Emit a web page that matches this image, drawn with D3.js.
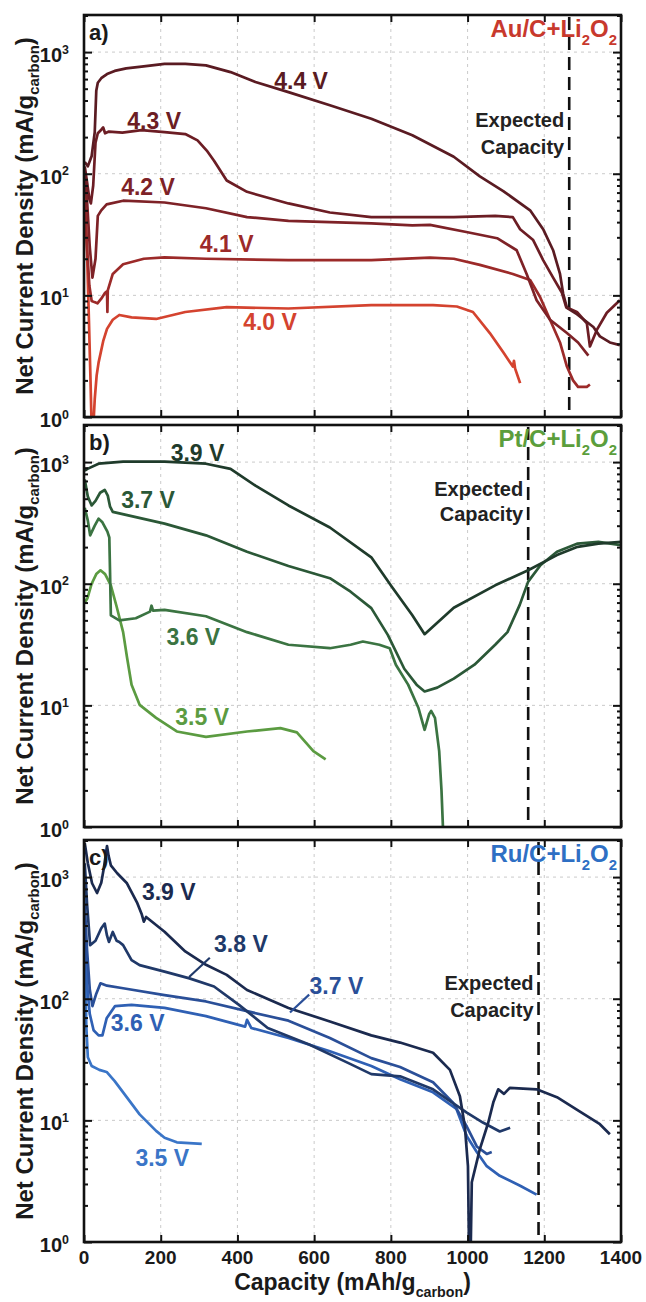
<!DOCTYPE html>
<html>
<head>
<meta charset="utf-8">
<script src="https://cdn.jsdelivr.net/npm/d3@7"></script>
<style>
  body { margin: 0; background: #fff; }
</style>
</head>
<body>
<script>
// [capacity mAh/g, net current density mA/g]

// a) Au/C + Li2O2
const au44 = [[2,125],[10,115],[20,140],[28,220],[32,480],[36,560],[45,610],[60,660],[80,700],[110,735],[150,760],[210,800],[264,800],[318,777],[382,685],[447,567],[533,469],[641,365],[749,283],[856,207],[964,138],[1032,95],[1093,72],[1163,50],[1197,35],[1223,23.5],[1241,15],[1249,10.4],[1259,7.9],[1285,7.0],[1328,5.5],[1345,4.6],[1371,4.1],[1397,3.9]];
const au43 = [[2,115],[8,85],[14,62],[18,57],[24,80],[30,180],[36,215],[45,230],[50,240],[55,215],[65,222],[100,218],[150,228],[210,220],[264,212],[296,188],[320,155],[339,128],[372,88],[425,71],[533,57],[641,48],[749,44],[856,44],[964,44],[1072,45],[1118,44],[1137,35],[1171,28.5],[1197,19.5],[1223,14],[1246,10.5],[1257,8],[1285,7.3],[1311,5.9],[1319,3.8],[1337,5.2],[1363,7.2],[1397,9.1]];
const au42 = [[2,100],[8,60],[15,25],[22,14],[30,20],[36,45],[45,50],[59,56],[102,60],[210,58],[318,52],[425,44],[533,41],[641,40],[749,39],[856,37.6],[902,38],[1000,33],[1077,29.5],[1128,23.5],[1154,15],[1180,9.1],[1215,6.3],[1259,4.9],[1288,4.1],[1315,3.2]];
const au41 = [[2,60],[8,25],[14,12],[20,9],[27,8.8],[35,8.6],[45,9.4],[55,10.5],[60,10.8],[61,7.3],[62,11],[75,15],[102,18],[156,20],[210,20.5],[318,20],[533,19.5],[749,19.5],[902,20.4],[964,20],[1032,17.8],[1118,15],[1163,13.4],[1189,9.7],[1215,6.3],[1241,4.1],[1259,2.6],[1275,2.0],[1288,1.77],[1311,1.77],[1319,1.85]];
const au40 = [[2,70],[8,22],[13,6],[17,2],[20,0.8],[24,0.8],[28,1.4],[33,2.2],[38,2.8],[50,4.2],[60,5.3],[75,6.3],[92,6.9],[124,6.6],[188,6.4],[264,7.3],[372,8.0],[533,7.8],[749,8.3],[910,8.3],[972,8.1],[1014,7.3],[1058,4.9],[1093,3.4],[1118,2.6],[1121,2.9],[1124,2.5],[1137,1.9]];

// b) Pt/C + Li2O2
const pt39 = [[2,850],[9,880],[38,970],[102,1010],[210,1010],[318,970],[382,880],[447,640],[533,440],[641,290],[749,165],[802,95],[856,55],[888,38.5],[964,63.5],[1072,97],[1158,129],[1233,172],[1287,201],[1341,214],[1400,221]];
const pt37 = [[2,720],[10,520],[20,440],[30,480],[42,560],[54,590],[62,530],[68,430],[75,390],[210,312],[318,250],[425,183],[533,140],[641,111],[695,86],[749,63],[792,38],[835,20],[867,14.8],[888,13],[921,14],[964,16.6],[1018,21.6],[1072,31.5],[1104,40],[1136,67],[1158,104],[1190,142],[1233,183],[1287,214],[1341,221],[1400,208]];
const pt36 = [[2,420],[10,330],[16,250],[28,300],[38,343],[48,320],[61,268],[66,240],[68,120],[70,55],[92,50],[135,52],[172,59],[176,66],[180,60],[210,61],[318,54],[425,40],[533,31.5],[641,29.5],[695,31.5],[727,33.5],[770,31.5],[797,29.5],[813,21.6],[845,14.8],[872,9.5],[888,6.3],[900,8.5],[905,9.0],[915,7.9],[926,4.2],[932,2],[937,0.8]];
const pt35 = [[2,70],[9,76],[20,100],[32,120],[43,129],[55,120],[70,97],[85,65],[102,40],[112,25],[124,14.8],[145,10.1],[188,7.9],[242,6.1],[318,5.5],[425,6.1],[512,6.5],[555,6.0],[598,4.2],[630,3.6]];

// c) Ru/C + Li2O2
const ru39 = [[2,1900],[10,1300],[21,890],[34,740],[45,900],[52,1200],[60,1800],[64,1500],[70,1250],[86,1080],[112,890],[138,620],[150,500],[156,430],[162,470],[210,355],[264,245],[318,190],[372,157],[425,118],[533,84],[641,65],[749,50],[824,43.6],[910,36],[954,26],[980,15.8],[993,8.9],[1001,4.2],[1004,0.8],[1008,0.8],[1011,3.1],[1032,5.8],[1054,9.6],[1067,14],[1080,18],[1095,16.5],[1110,18.5],[1180,18],[1233,15.5],[1293,11.8],[1345,9.3],[1371,7.7]];
const ru38 = [[2,1300],[8,600],[16,276],[30,300],[45,380],[54,415],[60,330],[65,293],[75,354],[85,300],[92,293],[102,276],[124,208],[145,189],[210,167],[275,147],[339,126],[404,89],[479,57.5],[587,42],[695,29],[749,24],[824,23],[910,18],[998,11.6],[1040,9.6],[1084,8.1],[1111,8.7]];
const ru37 = [[2,600],[8,250],[15,120],[22,87],[32,110],[43,134],[60,128],[102,122],[210,107],[318,95],[425,79],[533,66],[641,47.5],[749,32.5],[824,27.5],[910,20.6],[962,14],[998,8.9],[1024,6.1],[1050,5.3],[1063,5.5]];
const ru36 = [[2,400],[8,130],[15,75],[25,55],[38,50],[48,50],[59,69],[81,87],[124,89],[210,84],[318,72],[420,59],[425,67],[436,57.5],[533,47.5],[641,37],[749,28],[824,21.8],[910,17],[971,12.4],[998,7.4],[1024,5.5],[1050,4.2],[1084,3.5],[1137,2.9],[1180,2.45]];
const ru35 = [[1,1000],[3,200],[6,60],[10,33],[20,28],[40,26],[59,25],[80,21],[102,17],[145,11.2],[188,8.2],[210,7.2],[242,6.6],[307,6.4]];

const xTicks = [0, 200, 400, 600, 800, 1000, 1200, 1400];
const yTicks = [1, 10, 100, 1000];
const expectedCap = [1265, 1158, 1185];

// label anchors in data coords [capacity, current]
const auLabels = [[566,497],[183,233],[167,67],[372,22.7],[485,5.2]];
const ptLabels = [[296,1020],[167,418],[285,31.6],[308,6.9]];
const ruLabels = [[221,649],[409,243],[658,110],[140,54],[204,4.2]];
const expLabels = [[242,145],[525,327],[119,71]];
// leader lines in panel c (3.8 V and 3.7 V)
const ruLeaders = [[[274,151],[328,217]], [[537,77],[587,108]]];

const font = "'Liberation Sans', Arial, Helvetica, sans-serif";

const panels = [
  { letter: "a)", metal: "Au", titleColor: "#c8392d", labels: auLabels,
    series: [
      { name: "4.4 V", data: au44, color: "#5a1b22" },
      { name: "4.3 V", data: au43, color: "#6c1d24" },
      { name: "4.2 V", data: au42, color: "#7e2227" },
      { name: "4.1 V", data: au41, color: "#9c2a29" },
      { name: "4.0 V", data: au40, color: "#d4432f" }
    ] },
  { letter: "b)", metal: "Pt", titleColor: "#5b9e3c", labels: ptLabels,
    series: [
      { name: "3.9 V", data: pt39, color: "#1f3b2b" },
      { name: "3.7 V", data: pt37, color: "#2b5837" },
      { name: "3.6 V", data: pt36, color: "#3b7442" },
      { name: "3.5 V", data: pt35, color: "#5b9b41" }
    ] },
  { letter: "c)", metal: "Ru", titleColor: "#2e6fc4", labels: ruLabels,
    series: [
      { name: "3.9 V", data: ru39, color: "#1b2a4f" },
      { name: "3.8 V", data: ru38, color: "#203969" },
      { name: "3.7 V", data: ru37, color: "#2a4f98" },
      { name: "3.6 V", data: ru36, color: "#2f60b4" },
      { name: "3.5 V", data: ru35, color: "#3a75c7" }
    ] }
];

const width = 646, height = 1302;
const left = 84, right = 621;
const panelTop = [15, 425, 840];
const panelH = 402;
const yMax = Math.pow(10, 3.305);

const svg = d3.select("body").append("svg")
  .attr("width", width)
  .attr("height", height)
  .style("font-family", font);

const x = d3.scaleLinear().domain([0, 1400]).range([left, right]);

// text with sub/superscripts
function rich(text, parts, size, subShift) {
  let shift = 0;
  const sub = subShift || 0.32;
  parts.forEach(p => {
    const kind = p[1] || "n";
    const target = kind === "sub" ? size * sub : kind === "sup" ? -size * 0.42 : 0;
    text.append("tspan")
      .attr("dy", target - shift)
      .attr("font-size", kind === "n" ? size : size * 0.62)
      .text(p[0]);
    shift = target;
  });
}

const minorTicks = [];
for (let e = 0; e < 4; e++) {
  for (let m = 2; m <= 9; m++) {
    const v = m * Math.pow(10, e);
    if (v < yMax) minorTicks.push(v);
  }
}

panels.forEach((p, i) => {
  const top = panelTop[i], bottom = top + panelH;
  const y = d3.scaleLog().domain([1, yMax]).range([bottom, top]);
  const g = svg.append("g");

  // grid
  g.append("g").selectAll("line.gx")
    .data(xTicks.slice(1, -1))
    .enter().append("line")
    .attr("x1", d => x(d)).attr("x2", d => x(d))
    .attr("y1", top).attr("y2", bottom)
    .attr("stroke", "#c4c4c4").attr("stroke-width", 0.9)
    .attr("stroke-dasharray", "3,4");
  g.append("g").selectAll("line.gy")
    .data(yTicks.slice(1))
    .enter().append("line")
    .attr("x1", left).attr("x2", right)
    .attr("y1", d => y(d)).attr("y2", d => y(d))
    .attr("stroke", "#c4c4c4").attr("stroke-width", 0.9)
    .attr("stroke-dasharray", "3,4");

  // expected capacity line
  g.append("line")
    .attr("x1", x(expectedCap[i])).attr("x2", x(expectedCap[i]))
    .attr("y1", top + 2).attr("y2", bottom)
    .attr("stroke", "#111").attr("stroke-width", 2.6)
    .attr("stroke-dasharray", "13,7");

  // curves
  const clipId = "clip" + i;
  svg.append("clipPath").attr("id", clipId)
    .append("rect").attr("x", left).attr("y", top)
    .attr("width", right - left).attr("height", panelH);

  const line = d3.line()
    .x(d => x(d[0]))
    .y(d => y(Math.max(d[1], 0.3)));

  const curves = g.append("g").attr("clip-path", "url(#" + clipId + ")");
  p.series.slice().reverse().forEach(s => {
    curves.append("path")
      .datum(s.data)
      .attr("d", line)
      .attr("fill", "none")
      .attr("stroke", s.color)
      .attr("stroke-width", 2.7)
      .attr("stroke-linejoin", "round");
  });

  // axes: inward ticks on all sides
  const axB = g.append("g").attr("transform", "translate(0," + bottom + ")")
    .call(d3.axisBottom(x).tickValues(xTicks).tickSize(-7).tickFormat(""));
  const axT = g.append("g").attr("transform", "translate(0," + top + ")")
    .call(d3.axisTop(x).tickValues(xTicks).tickSize(-7).tickFormat(""));
  const axL = g.append("g").attr("transform", "translate(" + left + ",0)")
    .call(d3.axisLeft(y).tickValues(yTicks).tickSize(-8).tickFormat(""));
  const axR = g.append("g").attr("transform", "translate(" + right + ",0)")
    .call(d3.axisRight(y).tickValues(yTicks).tickSize(-8).tickFormat(""));
  const axLm = g.append("g").attr("transform", "translate(" + left + ",0)")
    .call(d3.axisLeft(y).tickValues(minorTicks).tickSize(-4).tickFormat(""));
  const axRm = g.append("g").attr("transform", "translate(" + right + ",0)")
    .call(d3.axisRight(y).tickValues(minorTicks).tickSize(-4).tickFormat(""));
  [axB, axT, axL, axR, axLm, axRm].forEach(a => {
    a.select(".domain").remove();
    a.selectAll(".tick line").attr("stroke", "#111").attr("stroke-width", 2);
  });

  // frame
  g.append("rect")
    .attr("x", left).attr("y", top)
    .attr("width", right - left).attr("height", panelH)
    .attr("fill", "none").attr("stroke", "#111").attr("stroke-width", 2.6);

  // y tick labels 10^n
  yTicks.forEach(v => {
    const t = g.append("text")
      .attr("x", 69).attr("y", y(v) + 10)
      .attr("text-anchor", "end")
      .attr("font-weight", "bold").attr("fill", "#1a1a1a");
    rich(t, [["10"], [String(Math.round(Math.log10(v))), "sup"]], 20);
  });

  // y axis title
  const yt = g.append("text")
    .attr("transform", "translate(33," + (top + panelH / 2) + ") rotate(-90)")
    .attr("text-anchor", "middle")
    .attr("font-weight", "bold").attr("fill", "#1a1a1a");
  rich(yt, [["Net Current Density (mA/g"], ["carbon", "sub"], [")"]], 24, 0.24);

  // panel letter and title
  g.append("text")
    .attr("x", left + 5).attr("y", top + 25)
    .attr("font-size", 22).attr("font-weight", "bold").attr("fill", "#1a1a1a")
    .text(p.letter);
  const tt = g.append("text")
    .attr("x", right - 4).attr("y", top + 22)
    .attr("text-anchor", "end")
    .attr("font-weight", "bold").attr("fill", p.titleColor);
  rich(tt, [[p.metal + "/C+Li"], ["2", "sub"], ["O"], ["2", "sub"]], 24);

  // expected capacity label
  ["Expected", "Capacity"].forEach((w, k) => {
    g.append("text")
      .attr("x", x(expectedCap[i]) - 5)
      .attr("y", y(expLabels[i][k]))
      .attr("text-anchor", "end")
      .attr("font-size", 20).attr("font-weight", "bold").attr("fill", "#222")
      .text(w);
  });

  // voltage labels
  p.series.forEach((s, k) => {
    g.append("text")
      .attr("x", x(p.labels[k][0])).attr("y", y(p.labels[k][1]))
      .attr("text-anchor", "middle")
      .attr("font-size", 23).attr("font-weight", "bold")
      .attr("fill", s.color)
      .text(s.name);
  });

  if (i === 2) {
    ruLeaders.forEach((ld, k) => {
      g.append("line")
        .attr("x1", x(ld[0][0])).attr("y1", y(ld[0][1]))
        .attr("x2", x(ld[1][0])).attr("y2", y(ld[1][1]))
        .attr("stroke", p.series[k + 1].color).attr("stroke-width", 2.2);
    });

    // x tick labels and title
    g.selectAll("text.xt")
      .data(xTicks)
      .enter().append("text")
      .attr("x", d => x(d)).attr("y", bottom + 22)
      .attr("text-anchor", "middle")
      .attr("font-size", 19).attr("font-weight", "bold").attr("fill", "#1a1a1a")
      .text(d => d);
    const xt = g.append("text")
      .attr("x", (left + right) / 2).attr("y", bottom + 48)
      .attr("text-anchor", "middle")
      .attr("font-weight", "bold").attr("fill", "#1a1a1a");
    rich(xt, [["Capacity (mAh/g"], ["carbon", "sub"], [")"]], 23);
  }
});
</script>
</body>
</html>
